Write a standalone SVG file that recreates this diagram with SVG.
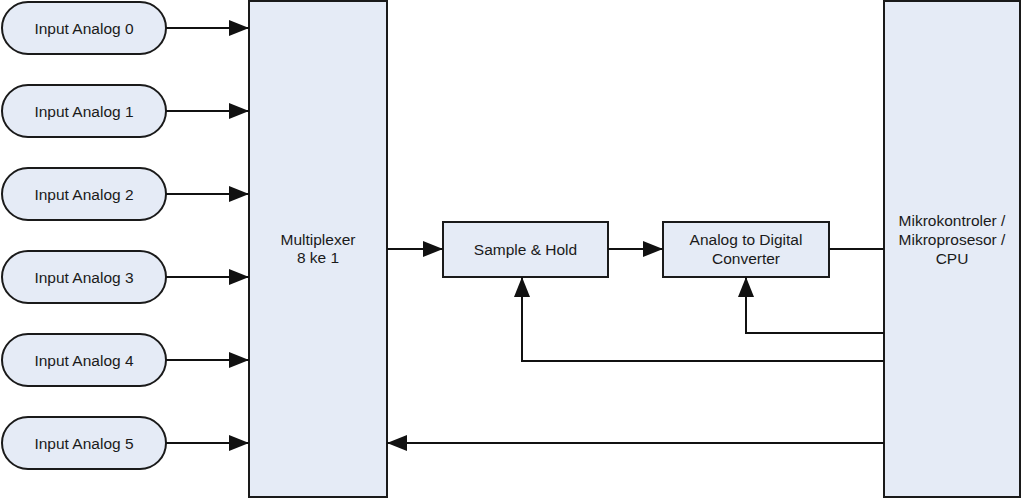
<svg xmlns="http://www.w3.org/2000/svg" width="1024" height="500" viewBox="0 0 1024 500">
<style>
.n{fill:#e5ebf6;stroke:#1a1a1a;stroke-width:2}
.t{font-family:"Liberation Sans",Arial,sans-serif;font-size:15.5px;fill:#1a1a1a;text-anchor:middle}
.c{fill:none;stroke:#111;stroke-width:2}
</style>
<defs>
<marker id="a" viewBox="0 0 20 16" refX="20" refY="8" markerWidth="20" markerHeight="16" markerUnits="userSpaceOnUse" orient="auto"><path d="M0,0L20,8L0,16Z" fill="#111"/></marker>
</defs>
<rect width="1024" height="500" fill="#fff"/>
<g id="in0"><rect class="n" x="2" y="2" width="164" height="52" rx="26"/><text class="t" x="84" y="33.5">Input Analog 0</text></g>
<g id="in1"><rect class="n" x="2" y="85" width="164" height="52" rx="26"/><text class="t" x="84" y="116.5">Input Analog 1</text></g>
<g id="in2"><rect class="n" x="2" y="168" width="164" height="52" rx="26"/><text class="t" x="84" y="199.5">Input Analog 2</text></g>
<g id="in3"><rect class="n" x="2" y="251" width="164" height="52" rx="26"/><text class="t" x="84" y="282.5">Input Analog 3</text></g>
<g id="in4"><rect class="n" x="2" y="334" width="164" height="52" rx="26"/><text class="t" x="84" y="365.5">Input Analog 4</text></g>
<g id="in5"><rect class="n" x="2" y="417" width="164" height="52" rx="26"/><text class="t" x="84" y="448.5">Input Analog 5</text></g>
<g id="mux"><rect class="n" x="249" y="1" width="138" height="496"/><text class="t" x="318" y="245">Multiplexer</text><text class="t" x="318" y="263">8 ke 1</text></g>
<g id="sh"><rect class="n" x="443" y="222" width="165" height="55"/><text class="t" x="525.5" y="255">Sample &amp; Hold</text></g>
<g id="adc"><rect class="n" x="663" y="222" width="166" height="55"/><text class="t" x="746" y="245">Analog to Digital</text><text class="t" x="746" y="264">Converter</text></g>
<g id="cpu"><rect class="n" x="884" y="1" width="136" height="496"/><text class="t" x="952" y="226">Mikrokontroler /</text><text class="t" x="952" y="245">Mikroprosesor /</text><text class="t" x="952" y="264">CPU</text></g>
<g id="connectors">
<path class="c" d="M166,28H249" marker-end="url(#a)"/>
<path class="c" d="M166,111H249" marker-end="url(#a)"/>
<path class="c" d="M166,194H249" marker-end="url(#a)"/>
<path class="c" d="M166,277H249" marker-end="url(#a)"/>
<path class="c" d="M166,360H249" marker-end="url(#a)"/>
<path class="c" d="M166,443H249" marker-end="url(#a)"/>
<path class="c" d="M387,249H443" marker-end="url(#a)"/>
<path class="c" d="M608,249H663" marker-end="url(#a)"/>
<path class="c" d="M829,249H884"/>
<path class="c" d="M884,333H746V277" marker-end="url(#a)"/>
<path class="c" d="M884,361H522V277" marker-end="url(#a)"/>
<path class="c" d="M884,443H387" marker-end="url(#a)"/>
</g>
</svg>
